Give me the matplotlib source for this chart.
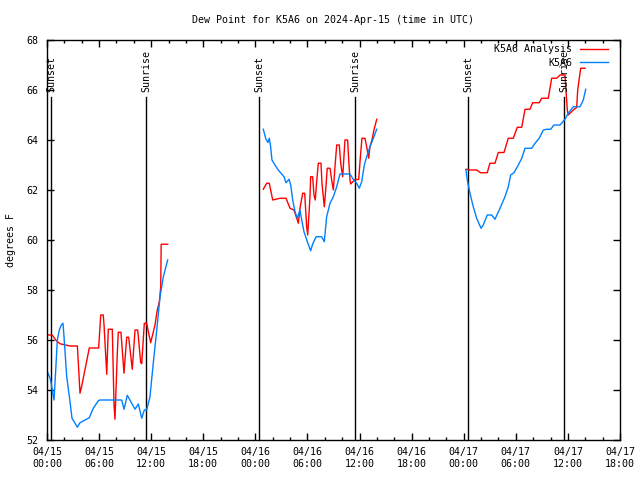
import pandas as pd
import matplotlib
matplotlib.use("Agg")
import matplotlib.pyplot as plt
import matplotlib.dates as mdates

START = pd.Timestamp("2024-04-15 00:00")

# dew point values, hours after 04/15 00:00 UTC, three separate stretches
ana_h1 = [0.12, 0.6, 1.0, 1.5, 2.65, 3.5, 3.8, 4.0, 4.87, 5.95, 6.19, 6.48, 6.57, 6.88, 7.06, 7.52,
          7.72, 7.83, 8.1, 8.21, 8.52, 8.87, 9.18, 9.41, 9.82, 10.14, 10.45, 10.79, 10.91, 11.21,
          11.48, 11.94, 12.44, 12.7, 12.94, 13.1, 13.15, 13.9]
ana_v1 = [56.2, 56.2, 56.0, 55.85, 55.76, 55.76, 53.87, 54.16, 55.68, 55.68, 57.0, 57.0, 56.6, 54.63, 56.43, 56.43,
          53.4, 52.83, 55.5, 56.31, 56.31, 54.67, 56.11, 56.11, 54.83, 56.4, 56.4, 55.1, 55.05, 56.67,
          56.67, 55.89, 56.6, 57.2, 57.53, 58.13, 59.83, 59.83]

obs_h1 = [0.12, 0.35, 0.5, 0.66, 0.81, 0.96, 1.19, 1.42, 1.65, 1.84, 1.96, 2.27, 2.65, 2.88, 3.23, 3.49,
          3.8, 4.38, 4.87, 5.33, 5.91, 6.1, 8.6, 8.87, 9.25, 9.76, 10.14, 10.52, 10.91, 11.21, 11.48,
          11.86, 12.24, 12.64, 13.02, 13.4, 13.9]
obs_v1 = [54.67, 54.47, 54.24, 53.87, 53.6, 54.53, 56.0, 56.4, 56.6, 56.67, 56.13, 54.53, 53.53, 52.87, 52.67, 52.51,
          52.69, 52.8, 52.89, 53.27, 53.57, 53.6, 53.6, 53.23, 53.79, 53.47, 53.23, 53.44, 52.87, 53.2, 53.2,
          53.73, 55.07, 56.4, 57.73, 58.53, 59.2]

ana_h2 = [24.91, 25.3, 25.6, 26.0, 26.84, 27.53, 27.99, 28.45, 28.95, 29.14, 29.45, 29.68, 29.91, 30.03,
          30.29, 30.37, 30.6, 30.75, 30.9, 31.06, 31.25, 31.56, 31.67, 31.94, 32.13, 32.28, 32.6, 32.79,
          32.98, 33.17, 33.37, 33.67, 33.83, 34.06, 34.32, 34.63, 34.75, 34.9, 34.98, 35.48, 35.9, 36.13,
          36.28, 36.63, 36.82, 37.05, 37.2, 37.43, 37.66, 37.98]
ana_v2 = [62.03, 62.27, 62.27, 61.6, 61.67, 61.67, 61.27, 61.2, 60.67, 61.27, 61.87, 61.87, 60.53, 60.2,
          61.73, 62.53, 62.53, 61.8, 61.6, 62.33, 63.07, 63.07, 62.27, 61.33, 62.13, 62.87, 62.87, 62.4,
          62.0, 62.93, 63.8, 63.8, 63.07, 62.53, 64.0, 64.0, 63.2, 62.4, 62.24, 62.42, 62.42, 63.47,
          64.07, 64.07, 63.73, 63.27, 63.73, 64.0, 64.4, 64.83]

obs_h2 = [24.91, 25.22, 25.45, 25.6, 25.76, 25.91, 26.26, 26.64, 27.03, 27.3, 27.53, 27.88, 28.07, 28.3,
          28.57, 28.83, 29.14, 29.34, 29.6, 29.99, 30.37, 30.6, 31.0, 31.64, 31.94, 32.21, 32.6, 32.98,
          33.37, 33.75, 34.9, 35.27, 35.67, 35.97, 36.25, 36.55, 36.82, 37.2, 37.59, 37.98]
obs_v2 = [64.43, 64.03, 63.9, 64.07, 63.73, 63.2, 63.0, 62.8, 62.64, 62.53, 62.29, 62.43, 62.2, 61.6,
          61.13, 60.87, 61.2, 60.8, 60.33, 59.93, 59.57, 59.84, 60.13, 60.13, 59.93, 60.93, 61.47, 61.73,
          62.13, 62.64, 62.64, 62.43, 62.27, 62.07, 62.33, 63.0, 63.33, 63.73, 64.07, 64.43]

ana_h3 = [48.26, 48.72, 49.49, 49.95, 50.71, 51.02, 51.6, 51.98, 52.64, 53.13, 53.71, 54.17, 54.68, 55.06,
          55.63, 55.94, 56.7, 56.98, 57.74, 58.13, 58.71, 59.09, 59.66, 59.93, 60.04, 60.62, 61.01, 61.13,
          61.47, 61.97]
ana_v3 = [62.83, 62.8, 62.8, 62.69, 62.69, 63.07, 63.07, 63.5, 63.5, 64.07, 64.07, 64.51, 64.51, 65.23,
          65.23, 65.49, 65.49, 65.67, 65.67, 66.47, 66.47, 66.6, 66.6, 65.2, 65.0, 65.2, 65.3, 66.0,
          66.87, 66.87]

obs_h3 = [48.26, 48.41, 48.72, 49.1, 49.49, 49.99, 50.25, 50.71, 51.22, 51.6, 52.18, 52.75, 53.13, 53.41,
          53.79, 54.29, 54.68, 55.06, 55.83, 56.21, 56.7, 57.16, 57.56, 58.02, 58.39, 59.09, 59.66, 60.04,
          60.62, 61.39, 61.77, 62.05]
obs_v3 = [62.8, 62.4, 61.87, 61.33, 60.87, 60.47, 60.6, 61.0, 61.0, 60.83, 61.27, 61.73, 62.13, 62.6,
          62.69, 63.0, 63.27, 63.67, 63.67, 63.87, 64.07, 64.4, 64.43, 64.43, 64.6, 64.6, 64.83, 65.07,
          65.33, 65.33, 65.6, 66.03]

sun_hours = [0.45, 11.45, 24.47, 35.47, 48.5, 59.55]
sun_labels = ["Sunset", "Sunrise", "Sunset", "Sunrise", "Sunset", "Sunrise"]

RED = "#ff0000"
BLUE = "#0080ff"
FONT = "DejaVu Sans Mono"
FS = 7.2


def t(hours):
    return START + pd.to_timedelta(hours, unit="h")


plt.rcParams["font.family"] = FONT
plt.rcParams["font.size"] = FS

fig = plt.figure(figsize=(6.4, 4.8), dpi=100)
ax = fig.add_axes([47 / 640, 40 / 480, 573 / 640, 400 / 480])

for h, lab in zip(sun_hours, sun_labels):
    ax.axvline(t(h), ymin=0, ymax=(65.7 - 52) / 16, color="black", lw=1)
    ax.text(t(h), 65.93, lab, rotation=90, ha="center", va="bottom", fontsize=FS)

first = True
for hh, vv in [(ana_h1, ana_v1), (ana_h2, ana_v2), (ana_h3, ana_v3)]:
    ax.plot(t(hh), vv, color=RED, lw=1, label="K5A6 Analysis" if first else None)
    first = False
first = True
for hh, vv in [(obs_h1, obs_v1), (obs_h2, obs_v2), (obs_h3, obs_v3)]:
    ax.plot(t(hh), vv, color=BLUE, lw=1, label="K5A6" if first else None)
    first = False

ax.set_xlim(t(0), t(66))
ax.set_ylim(52, 68)
ax.set_yticks(range(52, 69, 2))
ax.xaxis.set_major_locator(mdates.HourLocator(byhour=[0, 6, 12, 18]))
ax.xaxis.set_minor_locator(mdates.HourLocator(byhour=range(0, 24, 2)))
ax.xaxis.set_major_formatter(mdates.DateFormatter("%m/%d\n%H:%M"))
ax.tick_params(which="both", direction="in", top=True, right=True, labelsize=FS, width=1)
ax.tick_params(which="major", length=5, pad=5)
ax.tick_params(which="minor", length=2.5)
ax.tick_params(axis="y", pad=6)
for s in ax.spines.values():
    s.set_linewidth(1)

ax.set_ylabel("degrees F", fontsize=FS, labelpad=8)
ax.set_title("Dew Point for K5A6 on 2024-Apr-15 (time in UTC)", fontsize=FS, pad=12)

ax.legend(loc="upper right", frameon=False, markerfirst=False, handlelength=2.8,
          handletextpad=0.8, labelspacing=0.35, borderaxespad=0.2,
          bbox_to_anchor=(0.99, 1.005), fontsize=FS)

fig.savefig("out.png", dpi=100)
